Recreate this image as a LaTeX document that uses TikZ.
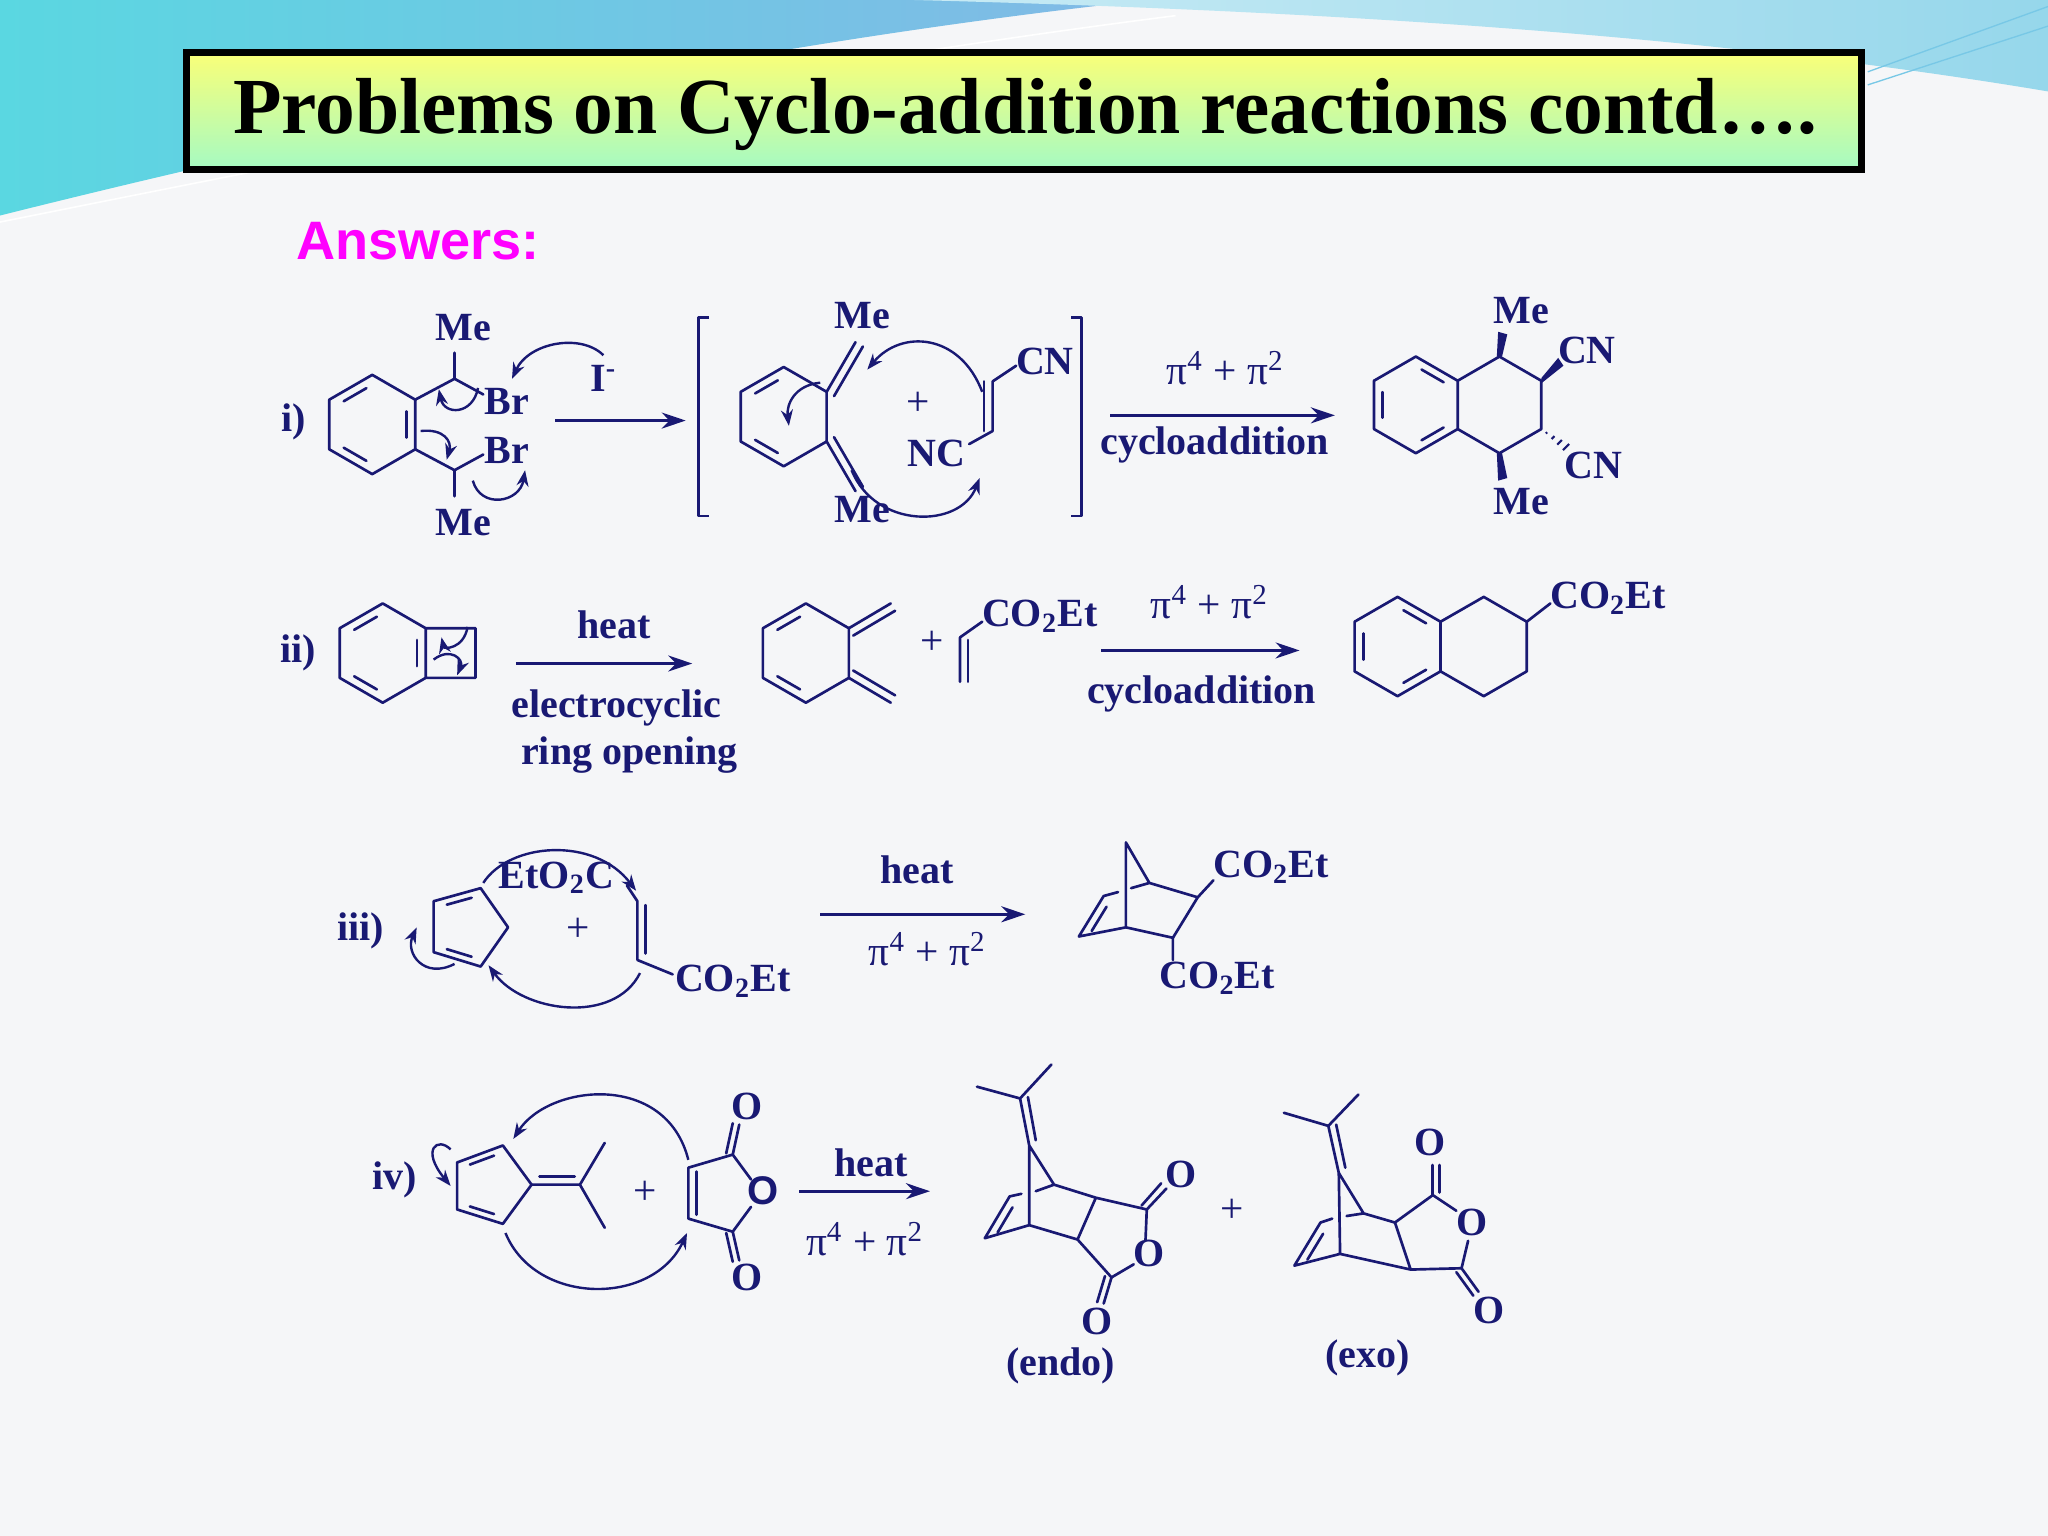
\documentclass[tikz,border=0pt]{standalone}
\usepackage{fontspec}
\setmainfont{Liberation Serif}
\newfontfamily\arialf{Liberation Sans}
\usetikzlibrary{calc,arrows.meta}
\definecolor{chem}{RGB}{25,25,115}
\definecolor{bgc}{RGB}{245,246,248}
\definecolor{swA}{RGB}{90,215,225}
\definecolor{swB}{RGB}{130,185,230}
\definecolor{swC}{RGB}{200,235,245}
\definecolor{swD}{RGB}{150,215,235}
\definecolor{swE}{RGB}{120,200,230}
\definecolor{ttop}{RGB}{250,255,120}
\definecolor{tbot}{RGB}{165,250,195}
\definecolor{magen}{RGB}{255,0,255}
\newcommand\rdbl[3]{\draw[bond] ($(#1)!0.17!(#2)!0.2!(#3)$) -- ($(#2)!0.17!(#1)!0.2!(#3)$);}
\newcommand\pdbl[2]{\draw[bond] ($(#1)!3.2pt!90:(#2)$) -- ($(#2)!3.2pt!-90:(#1)$);}
\newcommand\ring[4]{% name, cx, cy, r
  \coordinate (#1c) at (#2,#3);
  \coordinate (#1a) at ($(#2,#3)+(-0.866*#4,-0.5*#4)$);
  \coordinate (#1b) at ($(#2,#3)+(0,-#4)$);
  \coordinate (#1d) at ($(#2,#3)+(0.866*#4,-0.5*#4)$);
  \coordinate (#1e) at ($(#2,#3)+(0.866*#4,0.5*#4)$);
  \coordinate (#1f) at ($(#2,#3)+(0,#4)$);
  \coordinate (#1g) at ($(#2,#3)+(-0.866*#4,0.5*#4)$);}
\begin{document}
\begin{tikzpicture}[x=0.4898pt,y=-0.4898pt,
  bond/.style={draw=chem,line width=1pt,line cap=round,line join=round},
  rxn/.style={draw=chem,line width=1.1pt,-{Stealth[length=9pt,width=6pt]}},
  curly/.style={draw=chem,line width=0.9pt,-{Stealth[length=6pt,width=4.5pt]}},
  lab/.style={text=chem,font=\bfseries\fontsize{15}{17}\selectfont,inner sep=0pt},
  pl/.style={text=chem,font=\fontsize{15.5}{17}\selectfont,inner sep=0pt}]
\useasboundingbox (0,0) rectangle (1568,1176);
\fill[bgc] (0,0) rectangle (1568,1176);
% background swooshes
\shade[left color=swA,right color=swB]
  (0,0) -- (880,0) .. controls (600,30) and (300,90) .. (0,165) -- cycle;
\shade[left color=swC,right color=swD]
  (700,0) -- (1568,0) -- (1568,70) .. controls (1300,25) and (1000,8) .. (700,0) -- cycle;
\draw[white,line width=0.6pt] (0,170) .. controls (300,110) and (600,50) .. (900,12);
\draw[swE,line width=0.5pt] (1430,55) -- (1568,5) (1430,65) -- (1568,20);
% title
\draw[line width=2.6pt,top color=ttop,bottom color=tbot] (143,40) rectangle (1425,130);
\node (title) at (785,88) {\bfseries\fontsize{29.8}{32}\selectfont Problems on Cyclo-addition reactions contd….};
\node[text=magen,font=\arialf\bfseries\fontsize{20.3}{22}\selectfont] (ans) at (320,185) {Answers:};

%%%%%%%%%% i)
\node[lab] (li) at (225,323) {i)};
\ring{A}{285}{325}{38}
\draw[bond] (Aa)--(Ab)--(Ad)--(Ae)--(Af)--(Ag)--cycle;
\rdbl{Aa}{Ab}{Ac}\rdbl{Ad}{Ae}{Ac}\rdbl{Af}{Ag}{Ac}
\coordinate (CH1) at (348,290); \coordinate (CH2) at (348,360);
\draw[bond] (Ad)--(CH1)--(348,270) (CH1)--(370,302);
\draw[bond] (Ae)--(CH2)--(348,380) (CH2)--(370,348);
\node[lab] (me1) at (355,251) {Me};
\node[lab] (br1) at (388,307) {Br};
\node[lab] (br2) at (388,345) {Br};
\node[lab] (me2) at (355,400) {Me};
\node[lab] (iod) at (462,290) {I\textsuperscript{-}};
\draw[curly] (462,272) .. controls (445,255) and (405,262) .. (392,290);
\draw[curly] (366,297) .. controls (362,318) and (340,318) .. (336,298);
\draw[curly] (322,330) .. controls (340,328) and (346,338) .. (342,352);
\draw[curly] (362,368) .. controls (368,390) and (398,385) .. (402,360);
\draw[rxn] (425,322) -- (525,322);
% bracket
\draw[bond,line cap=butt] (543,243)--(535,243)--(535,395)--(543,395);
\draw[bond,line cap=butt] (820,243)--(828,243)--(828,395)--(820,395);
\ring{B}{600}{319}{38}
\draw[bond] (Ba)--(Bb)--(Bd)--(Be)--(Bf)--(Bg)--cycle;
\rdbl{Ba}{Bb}{Bc}\rdbl{Bf}{Bg}{Bc}
\coordinate (BX1) at (655,262); \coordinate (BX2) at (655,376);
\draw[bond] (Bd)--(BX1) (Be)--(BX2);
\pdbl{BX1}{Bd}\pdbl{Be}{BX2}
\node[lab] (me3) at (660,242) {Me};
\node[lab] (me4) at (660,390) {Me};
\node[pl] (plus1) at (703,309) {+};
\coordinate (D1) at (760,292); \coordinate (D2) at (760,330);
\draw[bond] (D1)--(D2) (D1)--(778,280) (D2)--(742,340);
\pdbl{D2}{D1}
\node[lab] (cn1) at (800,277) {CN};
\node[lab] (nc1) at (717,347) {NC};
\draw[curly] (752,300) .. controls (735,255) and (690,252) .. (664,283);
\draw[curly] (628,293) .. controls (608,295) and (602,310) .. (604,326);
\draw[curly] (652,360) .. controls (670,405) and (735,405) .. (750,366);
\draw[rxn] (850,318) -- (1022,318);
\node[pl] (pi1) at (938,282) {π\textsuperscript{4} + π\textsuperscript{2}};
\node[lab] (ca1) at (930,341) {cycloaddition};
\ring{C}{1084}{310}{37}
\ring{E}{1148}{310}{37}
\draw[bond] (Ca)--(Cb)--(Cd)--(Ce)--(Cf)--(Cg)--cycle (Cd)--(Eb)--(Ed)--(Ee)--(Ef)--(Ce);
\rdbl{Cb}{Cd}{Cc}\rdbl{Ce}{Cf}{Cc}\rdbl{Cg}{Ca}{Cc}
\fill[chem] ($(Eb)+(-2,0)$) -- ($(Eb)+(2,0)$) -- (1154,256) -- (1147,254) -- cycle;
\fill[chem] ($(Ed)+(0,-2)$) -- ($(Ed)+(0,2)$) -- (1197,280) -- (1193,274) -- cycle;
\fill[chem] ($(Ef)+(-2,0)$) -- ($(Ef)+(2,0)$) -- (1154,366) -- (1147,368) -- cycle;
\foreach \t in {0.2,0.45,0.7,0.95}
  \draw[chem,line width=0.8pt] ($(Ee)!\t!(1200,343)+(-2.5*\t,2.5*\t)$) -- ($(Ee)!\t!(1200,343)+(2.5*\t,-2.5*\t)$);
\node[lab] (me5) at (1165,238) {Me};
\node[lab] (cn2) at (1215,268) {CN};
\node[lab] (cn3) at (1220,356) {CN};
\node[lab] (me6) at (1165,384) {Me};

%%%%%%%%%% ii)
\node[lab] (lii) at (228,500) {ii)};
\ring{F}{293}{500}{38}
\draw[bond] (Fa)--(Fb)--(Fd)--(Fe)--(Ff)--(Fg)--cycle (Fd)--(364,481)--(364,519)--(Fe);
\rdbl{Fa}{Fb}{Fc}\rdbl{Fd}{Fe}{Fc}\rdbl{Ff}{Fg}{Fc}
\draw[curly] (358,480) .. controls (355,497) and (340,497) .. (338,488);
\draw[curly] (332,505) .. controls (345,495) and (355,505) .. (350,517);
\draw[rxn] (395,508) -- (530,508);
\node[lab] (heat1) at (470,478) {heat};
\node[lab] (ec) at (472,542) {electrocyclic};
\node[lab] (ro) at (482,578) {ring opening};
\ring{G}{617}{500}{38}
\draw[bond] (Ga)--(Gb)--(Gd)--(Ge)--(Gf)--(Gg)--cycle;
\rdbl{Ga}{Gb}{Gc}\rdbl{Gf}{Gg}{Gc}
\coordinate (GX1) at (682,462); \coordinate (GX2) at (682,538);
\draw[bond] (Gd)--(GX1) (Ge)--(GX2);
\pdbl{GX1}{Gd}\pdbl{Ge}{GX2}
\node[pl] (plus2) at (714,492) {+};
\coordinate (H1) at (735,488); \coordinate (H2) at (735,522);
\draw[bond] (H1)--(H2) (H1)--(752,476);
\draw[bond] (741,490)--(741,522);
\node[lab] (co1) at (796,472) {CO\textsubscript{2}Et};
\draw[rxn] (843,498) -- (995,498);
\node[pl] (pi2) at (926,461) {π\textsuperscript{4} + π\textsuperscript{2}};
\node[lab] (ca2) at (920,531) {cycloaddition};
\ring{J}{1070}{495}{38}
\ring{K}{1136}{495}{38}
\draw[bond] (Ja)--(Jb)--(Jd)--(Je)--(Jf)--(Jg)--cycle (Jd)--(Kb)--(Kd)--(Ke)--(Kf)--(Je);
\rdbl{Jb}{Jd}{Jc}\rdbl{Je}{Jf}{Jc}\rdbl{Jg}{Ja}{Jc}
\draw[bond] (Kd)--(1187,462);
\node[lab] (co2) at (1231,458) {CO\textsubscript{2}Et};

%%%%%%%%%% iii)
\node[lab] (liii) at (276,713) {iii)};
\coordinate (P1) at (332,690); \coordinate (P2) at (368,680); \coordinate (P3) at (389,710);
\coordinate (P4) at (368,740); \coordinate (P5) at (332,729); \coordinate (Pc) at (358,710);
\draw[bond] (P1)--(P2)--(P3)--(P4)--(P5)--cycle;
\rdbl{P1}{P2}{Pc}\rdbl{P4}{P5}{Pc}
\draw[curly] (348,738) .. controls (325,750) and (310,730) .. (319,710);
\draw[curly] (370,676) .. controls (390,645) and (455,640) .. (487,682);
\draw[curly] (490,745) .. controls (470,785) and (400,775) .. (374,739);
\node[lab] (eto) at (426,672) {EtO\textsubscript{2}C};
\node[pl] (plus3) at (443,712) {+};
\coordinate (Q1) at (488,690); \coordinate (Q2) at (488,735);
\draw[bond] (Q1)--(Q2) (Q1)--(480,678) (Q2)--(515,746);
\draw[bond] (494,693)--(494,730);
\node[lab] (co3) at (561,751) {CO\textsubscript{2}Et};
\draw[rxn] (628,700) -- (785,700);
\node[lab] (heat2) at (702,666) {heat};
\node[pl] (pi3) at (710,727) {π\textsuperscript{4} + π\textsuperscript{2}};
\coordinate (N1) at (862,645); \coordinate (N2) at (880,676); \coordinate (N3) at (917,687);
\coordinate (N4) at (898,718); \coordinate (N5) at (862,710); \coordinate (N6) at (845,686); \coordinate (N7) at (826,717);
\draw[bond] (N1)--(N2)--(N3)--(N4)--(N5)--(N7)--(N6)--(856,683) (866,680)--(N2) (N1)--(N5);
\draw[bond] ($(N6)!0.2!(N7)+(6,2)$) -- ($(N7)!0.2!(N6)+(6,2)$);
\draw[bond] (N3)--(929,674) (N4)--(898,735);
\node[lab] (co4) at (973,664) {CO\textsubscript{2}Et};
\node[lab] (co5) at (932,749) {CO\textsubscript{2}Et};

%%%%%%%%%% iv)
\node[lab] (liv) at (302,903) {iv)};
\coordinate (R1) at (350,890); \coordinate (R2) at (385,877); \coordinate (R3) at (407,907);
\coordinate (R4) at (385,937); \coordinate (R5) at (350,926); \coordinate (Rc) at (375,907);
\draw[bond] (R1)--(R2)--(R3)--(R4)--(R5)--cycle;
\rdbl{R1}{R2}{Rc}\rdbl{R4}{R5}{Rc}
\coordinate (RX) at (444,907);
\draw[bond] (R3)--(RX)--(463,875) (RX)--(463,940);
\draw[bond] (413,901)--(440,901);
\node[pl] (plus4) at (494,913) {+};
\coordinate (S1) at (527,894); \coordinate (S2) at (527,933); \coordinate (S3) at (561,884); \coordinate (S4) at (561,943);
\draw[bond] (S1)--(S2) (S1)--(S3)--(575,903) (S2)--(S4)--(575,924);
\draw[bond] (533,897)--(533,930);
\draw[bond] (S3)--(566,861) (S4)--(566,965);
\draw[bond] (S3)++(-5,-1)--(561,860) (S4)++(-5,1)--(561,966);
\node[lab] (o1) at (572,847) {O};
\node[text=chem,font=\arialf\bfseries\fontsize{15}{17}\selectfont,inner sep=0pt] (o2) at (584,912) {O};
\node[lab] (o3) at (572,978) {O};
\draw[curly] (345,880) .. controls (335,870) and (322,880) .. (345,908);
\draw[curly] (527,888) .. controls (510,820) and (420,830) .. (393,872);
\draw[curly] (387,944) .. controls (410,1000) and (500,1000) .. (526,944);
\draw[rxn] (612,912) -- (712,912);
\node[lab] (heat3) at (667,890) {heat};
\node[pl] (pi4) at (662,949) {π\textsuperscript{4} + π\textsuperscript{2}};
% endo
\coordinate (U1) at (748,832); \coordinate (U2) at (805,815); \coordinate (Ud) at (781,841);
\coordinate (Ua) at (788,877); \coordinate (Ut) at (807,907); \coordinate (Ub) at (788,938);
\coordinate (UL1) at (773,916); \coordinate (UL2) at (754,948);
\coordinate (Uca) at (839,917); \coordinate (Ucb) at (825,949);
\coordinate (Uc1) at (878,926); \coordinate (Uc2) at (851,978);
\draw[bond] (U1)--(Ud)--(U2) (Ud)--(Ua) (Ua)--(Ut)--(Uca)--(Uc1)--(877,950) (Ua)--(Ub)--(Ucb)--(Uc2)--(868,968) (Uca)--(Ucb)
  (Ub)--(UL2)--(UL1)--(782,914) (793,912)--(Ut);
\draw[bond] ($(Ud)+(6,-1)$) -- ($(Ua)+(5,-4)$);
\draw[bond] ($(UL1)!0.2!(UL2)+(6,2)$) -- ($(UL2)!0.2!(UL1)+(6,2)$);
\draw[bond] (Uc1)--(893,910) ($(Uc1)+(-4,-3)$)--(889,906);
\draw[bond] (Uc2)--(845,998) ($(Uc2)+(-5,-1)$)--(840,997);
\node[lab] (o4) at (904,899) {O};
\node[lab] (o5) at (880,960) {O};
\node[lab] (o6) at (840,1012) {O};
\node[lab] (endo) at (812,1046) {(endo)};
\node[pl] (plus5) at (943,927) {+};
% exo
\coordinate (V1) at (983,852); \coordinate (V2) at (1040,838); \coordinate (Vd) at (1017,862);
\coordinate (Va) at (1025,898); \coordinate (Vt) at (1044,929); \coordinate (Vb) at (1026,960);
\coordinate (VL1) at (1011,936); \coordinate (VL2) at (991,969);
\coordinate (Vca) at (1068,936); \coordinate (Vcb) at (1080,972);
\coordinate (Vc1) at (1097,915); \coordinate (Vc2) at (1119,971);
\draw[bond] (V1)--(Vd)--(V2) (Vd)--(Va) (Va)--(Vt)--(Vca)--(Vc1)--(1115,927) (Va)--(Vb)--(Vcb)--(Vc2)--(1124,950) (Vca)--(Vcb)
  (Vb)--(VL2)--(VL1)--(1020,933) (1031,931)--(Vt);
\draw[bond] ($(Vd)+(6,-1)$) -- ($(Va)+(5,-4)$);
\draw[bond] ($(VL1)!0.2!(VL2)+(6,2)$) -- ($(VL2)!0.2!(VL1)+(6,2)$);
\draw[bond] (Vc1)--(1097,892) (1102,913)--(1102,892);
\draw[bond] (Vc2)--(1132,989) ($(Vc2)+(-4,3)$)--(1128,992);
\node[lab] (o7) at (1095,875) {O};
\node[lab] (o8) at (1127,936) {O};
\node[lab] (o9) at (1140,1003) {O};
\node[lab] (exo) at (1047,1040) {(exo)};
\end{tikzpicture}
\end{document}
